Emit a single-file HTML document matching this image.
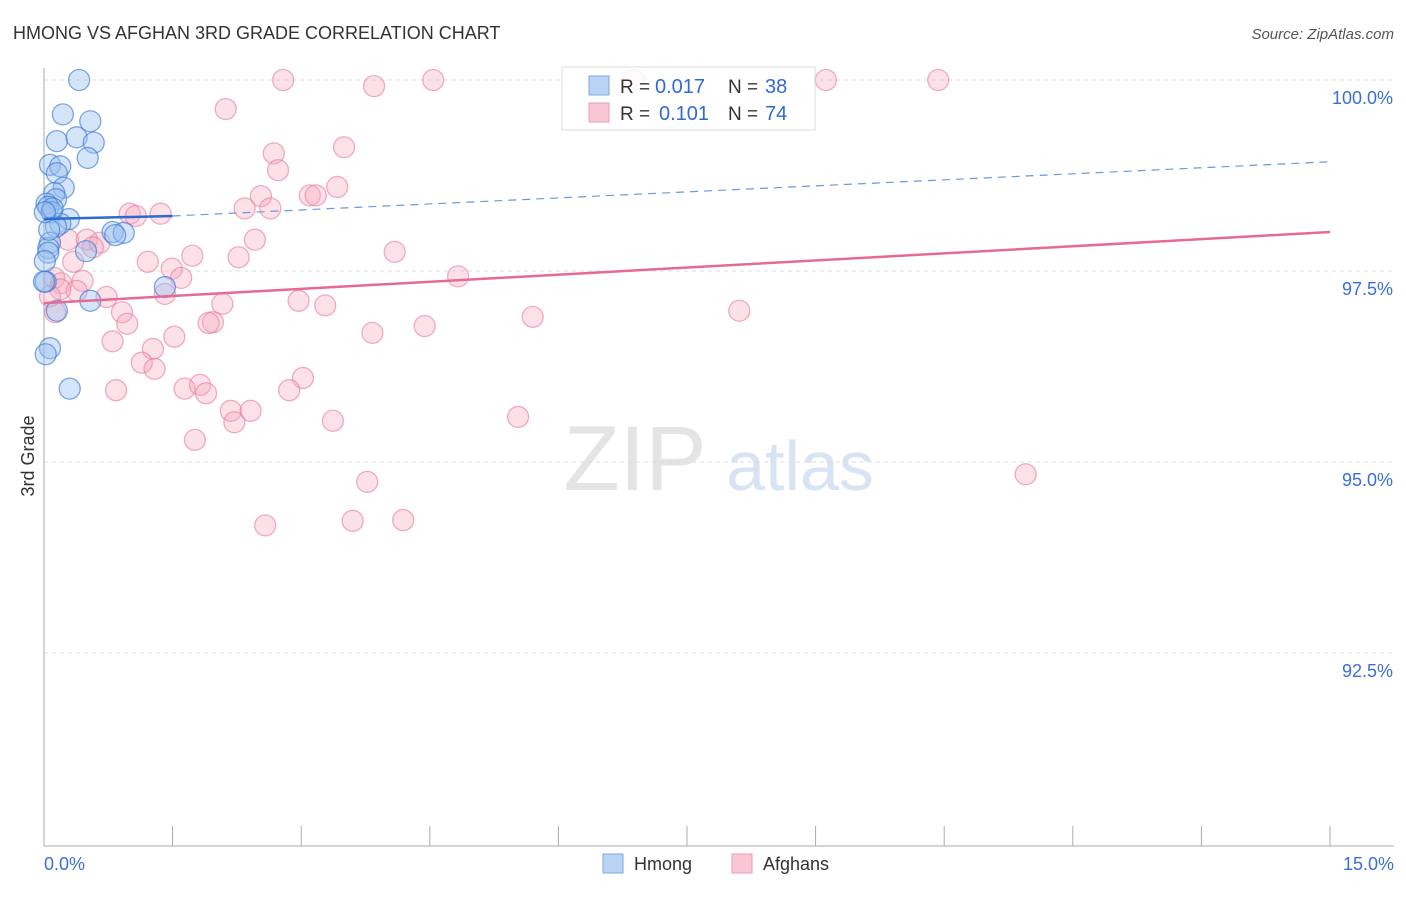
<!DOCTYPE html>
<html><head><meta charset="utf-8"><style>
body{margin:0;background:#fff;font-family:"Liberation Sans",sans-serif}
svg text{font-family:"Liberation Sans",sans-serif}
</style></head><body>
<svg id="c" width="1406" height="892">
<text x="13" y="39" font-size="18" fill="#333">HMONG VS AFGHAN 3RD GRADE CORRELATION CHART</text>
<text x="1394" y="39" font-size="15" fill="#555" font-style="italic" text-anchor="end">Source: ZipAtlas.com</text>
<text x="635" y="490" font-size="92" fill="#e4e4e4" font-family="Liberation Serif" text-anchor="middle">ZIP</text>
<text x="800" y="490" font-size="70" fill="#d8e4f4" text-anchor="middle">atlas</text>
<text x="34" y="456" font-size="18" fill="#333" transform="rotate(-90 34 456)" text-anchor="middle">3rd Grade</text>
<g id="grid"></g><g id="pts"></g><g id="lines"></g>
<g>
<rect x="562" y="67" width="253" height="63" fill="rgba(255,255,255,0.85)" stroke="#ddd"/>
<rect x="589" y="76" width="20" height="19" fill="#b9d3f5" stroke="#7fa8e0"/>
<rect x="589" y="103" width="20" height="19" fill="#f9c6d5" stroke="#ee9bb5"/>
<text x="620" y="93" font-size="19" fill="#333">R =</text>
<text x="655" y="93" font-size="20" fill="#2f6bd4">0.017</text>
<text x="728" y="93" font-size="19" fill="#333">N =</text>
<text x="765" y="93" font-size="20" fill="#2f6bd4">38</text>
<text x="620" y="120" font-size="19" fill="#333">R =</text>
<text x="659" y="120" font-size="20" fill="#2f6bd4">0.101</text>
<text x="728" y="120" font-size="19" fill="#333">N =</text>
<text x="765" y="120" font-size="20" fill="#2f6bd4">74</text>
</g>
<g>
<rect x="603" y="854" width="20" height="19" fill="#b9d3f5" stroke="#7fa8e0"/>
<text x="634" y="870" font-size="18" fill="#333">Hmong</text>
<rect x="732" y="854" width="20" height="19" fill="#f9c6d5" stroke="#ee9bb5"/>
<text x="763" y="870" font-size="18" fill="#333">Afghans</text>
</g>
</svg>
<script>
const hmongX=[0.41,0.22,0.54,0.15,0.38,0.58,0.51,0.07,0.19,0.15,0.23,0.12,0.14,0.03,0.05,0.09,0.29,0.19,0.14,0.80,0.93,0.83,0.07,0.05,0.49,0.05,0.01,0.02,1.41,0.54,0.15,0.07,0.02,0.30,0.0,0.06,0.10,0.01];
const hmongY=[100.0,99.55,99.46,99.20,99.25,99.18,98.98,98.89,98.87,98.78,98.59,98.52,98.44,98.38,98.34,98.27,98.18,98.12,98.08,98.01,98.00,97.97,97.87,97.80,97.76,97.74,97.63,97.36,97.29,97.11,96.98,96.49,96.41,95.96,97.36,98.04,98.32,98.27];
const afgX=[2.79,4.54,6.88,9.12,10.43,3.85,2.12,3.50,2.68,2.73,3.42,3.10,3.17,2.53,2.34,2.64,1.00,1.36,1.07,4.09,2.46,0.28,0.50,0.65,0.57,1.21,0.34,1.73,2.27,1.49,1.60,4.83,0.12,0.20,0.45,0.38,0.19,0.73,1.41,2.97,3.28,2.08,0.13,0.91,5.70,8.11,0.97,1.97,1.92,4.44,3.83,0.80,1.52,1.27,1.14,1.29,0.84,1.64,1.82,1.89,3.02,2.86,2.18,2.41,2.22,3.37,5.53,1.76,3.77,11.45,2.58,3.60,4.19,0.07];
const afgY=[100.0,100.0,100.0,100.0,100.0,99.92,99.62,99.12,99.04,98.82,98.60,98.49,98.49,98.48,98.32,98.32,98.25,98.25,98.22,97.75,97.91,97.91,97.91,97.87,97.81,97.62,97.62,97.70,97.68,97.53,97.41,97.43,97.41,97.34,97.37,97.24,97.26,97.16,97.20,97.11,97.05,97.07,96.96,96.96,96.90,96.98,96.81,96.83,96.82,96.78,96.69,96.58,96.64,96.48,96.30,96.22,95.94,95.96,96.01,95.90,96.10,95.94,95.67,95.67,95.52,95.54,95.59,95.29,94.74,94.84,94.17,94.23,94.24,97.17];
const yTicks=[100,97.5,95,92.5];
const yTickLabels=["100.0%","97.5%","95.0%","92.5%"];
const hmongTrend=[98.18,98.22,98.93]; // at x=0, 1.5, 15
const afgTrend=[97.08,98.01]; // at x=0, 15
const X=v=>44+v/15*1286, Y=v=>80+(100-v)/2.5*191;
const NS='http://www.w3.org/2000/svg';
function mk(tag,attrs,parent){const e=document.createElementNS(NS,tag);for(const k in attrs)e.setAttribute(k,attrs[k]);document.getElementById(parent).appendChild(e);return e;}
yTicks.forEach((t,i)=>{
 const l=mk('line',{x1:44,x2:1394,y1:Y(t),y2:Y(t),stroke:'#ddd','stroke-dasharray':'4,4'},'grid');
 
 
 const tx=mk('text',{x:1393,y:Y(t)+24,'font-size':18,fill:'#3a6fd8','text-anchor':'end'},'grid');
 tx.textContent=yTickLabels[i];
 
 
});
const ax=mk('line',{x1:44,x2:44,y1:68,y2:846,stroke:'#aaa'},'grid');


const bx=mk('line',{x1:44,x2:1394,y1:846,y2:846,stroke:'#aaa'},'grid');


for(let i=0;i<=10;i++){const t=mk('line',{x1:X(i*1.5),x2:X(i*1.5),y1:826,y2:846,stroke:'#aaa'},'grid');
 
 }
[[0,'0.0%','start',44],[15,'15.0%','end',1394]].forEach(a=>{const t=mk('text',{x:a[3],y:870,'font-size':18,fill:'#3a6fd8','text-anchor':a[2]},'grid');t.textContent=a[1];
 
 });
afgX.forEach((x,i)=>{const c=mk('circle',{cx:X(x),cy:Y(afgY[i]),r:10.5,fill:'rgba(246,168,192,0.35)',stroke:'rgba(232,120,155,0.6)','stroke-width':1.3},'pts');
 
 });
hmongX.forEach((x,i)=>{const c=mk('circle',{cx:X(x),cy:Y(hmongY[i]),r:10.5,fill:'rgba(150,190,240,0.4)',stroke:'rgba(60,120,210,0.65)','stroke-width':1.3},'pts');
 
 });
let l1=mk('line',{x1:X(0),y1:Y(hmongTrend[0]),x2:X(1.5),y2:Y(hmongTrend[1]),stroke:'#2a6bd1','stroke-width':2.5},'lines');


let l2=mk('line',{x1:X(1.5),y1:Y(hmongTrend[1]),x2:X(15),y2:Y(hmongTrend[2]),stroke:'#6a9ad8','stroke-width':1.2,'stroke-dasharray':'8,6'},'lines');


let l3=mk('line',{x1:X(0),y1:Y(afgTrend[0]),x2:X(15),y2:Y(afgTrend[1]),stroke:'#e76a93','stroke-width':2.5},'lines');


</script>
</body></html>
